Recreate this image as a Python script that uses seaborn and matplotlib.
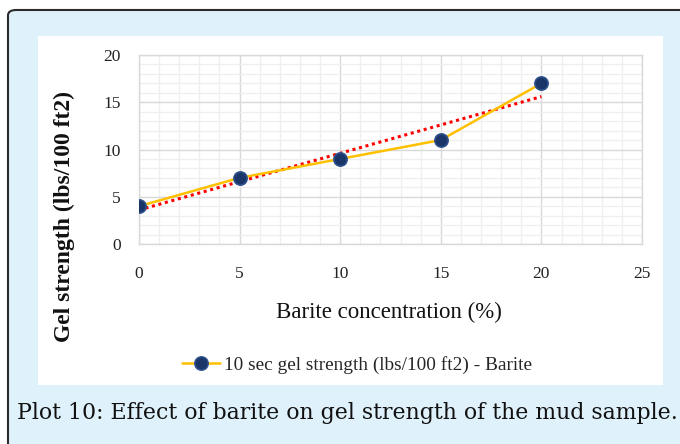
import numpy as np
import pandas as pd
import seaborn as sns
import matplotlib.pyplot as plt
from matplotlib.patches import FancyBboxPatch, Rectangle
from matplotlib.ticker import MultipleLocator

# data
barite = [0, 5, 10, 15, 20]
gel_10s = [4, 7, 9, 11, 17]
series_name = "10 sec gel strength (lbs/100 ft2) - Barite"
x_title = "Barite concentration (%)"
y_title = "Gel strength (lbs/100 ft2)"
caption = "Plot 10: Effect of barite on gel strength of the mud sample."

df = pd.DataFrame({"x": barite, "y": gel_10s})

sns.set_theme(style="white")
plt.rcParams["font.family"] = ["Liberation Serif", "DejaVu Serif"]

W, H = 680, 444
fig = plt.figure(figsize=(W / 100, H / 100), dpi=100)


def fx(px):
    return px / W


def fy(py):
    return 1 - py / H


# outer light blue box with dark border (runs off right / bottom)
fig.patches.append(FancyBboxPatch((fx(8), fy(470)), fx(720), (470 - 10) / H,
                                  boxstyle="round,pad=0,rounding_size=0.012",
                                  transform=fig.transFigure, facecolor="#dff1fb",
                                  edgecolor="#2b2b2b", linewidth=1.5, zorder=-2))
# white chart panel
fig.patches.append(Rectangle((fx(38), fy(385)), fx(625), 349 / H,
                             transform=fig.transFigure, facecolor="white",
                             edgecolor="none", zorder=-1))

ax = fig.add_axes([fx(139), fy(244), fx(642 - 139), (244 - 55) / H])
ax.set_zorder(2)
ax.set_facecolor("white")

sns.lineplot(data=df, x="x", y="y", ax=ax, color="#ffc000", linewidth=1.8,
             marker="o", markersize=9.5, markerfacecolor="#1a3668",
             markeredgecolor="#2d4f8a", markeredgewidth=1.2, label=series_name,
             zorder=4)

# linear trendline (dotted red)
k, b = np.polyfit(barite, gel_10s, 1)
xs = np.array([barite[0], barite[-1]])
ax.plot(xs, k * xs + b, color="#ff0000", linestyle=(0, (1, 1.2)),
        linewidth=2.2, zorder=3)

ax.set_xlim(0, 25)
ax.set_ylim(0, 20)
ax.xaxis.set_major_locator(MultipleLocator(5))
ax.yaxis.set_major_locator(MultipleLocator(5))
ax.xaxis.set_minor_locator(MultipleLocator(1))
ax.yaxis.set_minor_locator(MultipleLocator(1))
ax.grid(which="major", color="#d9d9d9", linewidth=1)
ax.grid(which="minor", color="#efefef", linewidth=0.9)
ax.set_axisbelow(True)
for s in ax.spines.values():
    s.set_color("#d9d9d9")
    s.set_linewidth(1)
ax.tick_params(which="both", length=0)
ax.tick_params(axis="x", pad=16, labelsize=12.5, labelcolor="#222222")
ax.tick_params(axis="y", pad=13, labelsize=12.5, labelcolor="#222222")
ax.set_xlabel("")
ax.set_ylabel("")
ax.legend().remove()

fig.text(fx(389), fy(312), x_title, ha="center", va="center", fontsize=16.5,
         color="#111111")
fig.text(fx(64), fy(217), y_title, ha="center", va="center", fontsize=17,
         fontweight="bold", rotation=90, color="#111111")

handles, labels = ax.get_legend_handles_labels()
fig.legend(handles, labels, loc="center", bbox_to_anchor=(fx(357), fy(365)),
           frameon=False, fontsize=13.9, handlelength=2.0, handletextpad=0.2)

fig.text(fx(17), fy(413), caption, ha="left", va="center", fontsize=15.8,
         family="DejaVu Serif", color="#111111")

fig.savefig("out.png", dpi=100)
